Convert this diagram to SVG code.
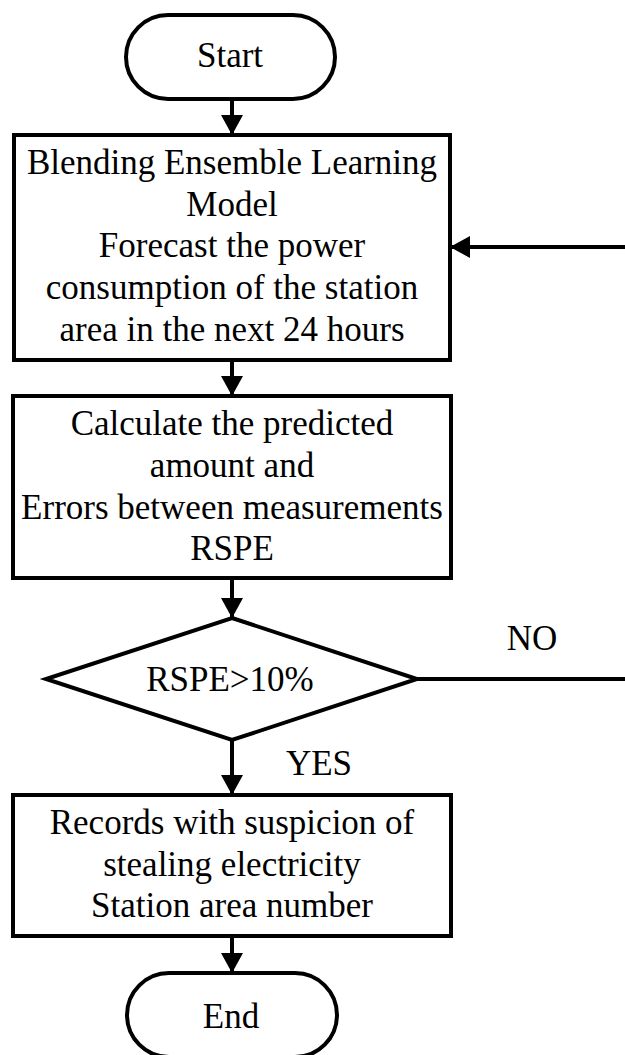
<svg xmlns="http://www.w3.org/2000/svg" width="625" height="1055" viewBox="0 0 625 1055">
<style>
.shape{fill:#fff;stroke:#000;stroke-width:4;stroke-linejoin:miter}
.conn{fill:none;stroke:#000;stroke-width:4}
text{font-family:"Liberation Serif","Times New Roman",serif;font-size:35px;fill:#000;text-anchor:middle}
</style>
<defs>
<marker id="arr" markerUnits="userSpaceOnUse" markerWidth="22" markerHeight="22" viewBox="0 0 20 22" refX="20" refY="11" orient="auto">
<path d="M0,0 L20,11 L0,22 Z" fill="#000"/>
</marker>
</defs>
<rect width="625" height="1055" fill="#fff"/>
<g id="start">
<rect class="shape" x="126" y="15" width="209" height="84" rx="42" ry="42"/>
<text x="230" y="67">Start</text>
</g>
<g id="forecast">
<rect class="shape" x="14" y="135" width="436" height="225"/>
<text x="232" y="174">Blending Ensemble Learning</text>
<text x="232" y="215.5">Model</text>
<text x="232" y="257">Forecast the power</text>
<text x="232" y="299">consumption of the station</text>
<text x="232" y="340.5">area in the next 24 hours</text>
</g>
<g id="calculate">
<rect class="shape" x="13" y="396" width="438" height="182"/>
<text x="232" y="435">Calculate the predicted</text>
<text x="232" y="477">amount and</text>
<text x="232" y="518.5">Errors between measurements</text>
<text x="232" y="560">RSPE</text>
</g>
<g id="decision">
<polygon class="shape" points="232,618 417,679 232,740 46,679"/>
<text x="230" y="691">RSPE&gt;10%</text>
</g>
<g id="records">
<rect class="shape" x="13" y="795" width="438" height="141"/>
<text x="232" y="834">Records with suspicion of</text>
<text x="232" y="876">stealing electricity</text>
<text x="232" y="917">Station area number</text>
</g>
<g id="end">
<rect class="shape" x="127" y="973" width="210" height="84" rx="42" ry="42"/>
<text x="231" y="1028">End</text>
</g>
<g id="connectors">
<line class="conn" x1="232" y1="99" x2="232" y2="135" marker-end="url(#arr)"/>
<line class="conn" x1="232" y1="360" x2="232" y2="396" marker-end="url(#arr)"/>
<line class="conn" x1="232" y1="578" x2="232" y2="618" marker-end="url(#arr)"/>
<line class="conn" x1="232" y1="740" x2="232" y2="795" marker-end="url(#arr)"/>
<line class="conn" x1="232" y1="936" x2="232" y2="973" marker-end="url(#arr)"/>
<line class="conn" x1="417" y1="679" x2="625" y2="679"/>
<line class="conn" x1="625" y1="247" x2="450" y2="247" marker-end="url(#arr)"/>
<text x="532" y="650">NO</text>
<text x="319" y="775">YES</text>
</g>
</svg>
